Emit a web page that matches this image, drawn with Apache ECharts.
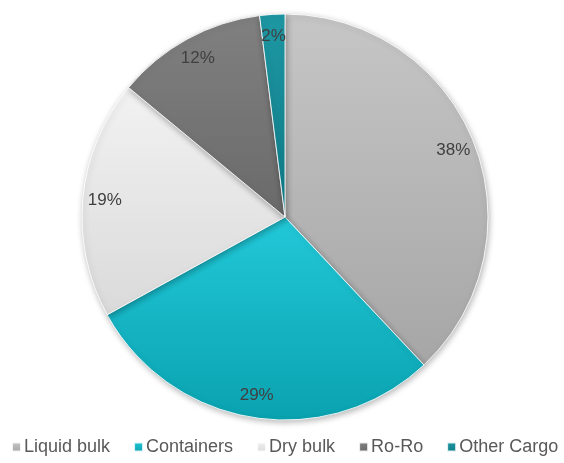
<!DOCTYPE html>
<html>
<head>
<meta charset="utf-8">
<script src="https://cdn.jsdelivr.net/npm/echarts@6/dist/echarts.min.js"></script>
<style>
  html, body { margin: 0; padding: 0; background: #fff; }
  #chart { width: 564px; height: 463px; }
</style>
</head>
<body>
<div id="chart"></div>
<script>
// Cargo mix by type (share of total, %)
const categories = ['Liquid bulk', 'Containers', 'Dry bulk', 'Ro-Ro', 'Other Cargo'];
const shares = [38, 29, 19, 12, 2];

// top / bottom shades of each slice
const topColors = ['#c6c6c6', '#22c8d8', '#f2f2f2', '#808080', '#1e98a4'];
const bottomColors = ['#a6a6a6', '#0aa2b0', '#dadada', '#6a6a6a', '#0f7c88'];
const legendColors = ['#a6a6a6', '#12b4c4', '#e0e0e0', '#6e6e6e', '#137f8a'];

const chart = echarts.init(document.getElementById('chart'));

const center = [285, 217];
const radius = 203;

const sliceData = categories.map((name, i) => ({
  name: name,
  value: shares[i],
  itemStyle: {
    color: new echarts.graphic.LinearGradient(0, 0, 0, 1, [
      { offset: 0, color: topColors[i] },
      { offset: 1, color: bottomColors[i] }
    ])
  }
}));

chart.setOption({
  animation: false,
  color: legendColors,
  legend: {
    top: 438,
    left: 11,
    padding: 0,
    icon: 'rect',
    itemWidth: 9,
    itemHeight: 9,
    itemGap: 23,
    textStyle: { fontFamily: 'Liberation Sans, Arial, sans-serif', fontSize: 18, color: '#595959', padding: [0, 0, 0, -2] },
    data: categories
  },
  series: [
    {
      type: 'pie',
      center: center,
      radius: [0, radius],
      startAngle: 90,
      clockwise: true,
      silent: true,
      label: { show: false },
      labelLine: { show: false },
      itemStyle: {
        borderColor: 'rgba(255,255,255,0.85)',
        borderWidth: 1,
        shadowColor: 'rgba(0,0,0,0.28)',
        shadowBlur: 6,
        shadowOffsetX: 1,
        shadowOffsetY: 2
      },
      data: sliceData
    },
    {
      // percentage labels set near the rim
      type: 'pie',
      center: center,
      radius: [153, radius],
      startAngle: 90,
      clockwise: true,
      silent: true,
      legendHoverLink: false,
      itemStyle: { color: 'rgba(0,0,0,0)', borderWidth: 0 },
      label: {
        show: true,
        position: 'inside',
        formatter: p => p.value + '%',
        fontFamily: 'Liberation Sans, Arial, sans-serif',
        fontSize: 17,
        color: '#404040'
      },
      labelLine: { show: false },
      data: categories.map((name, i) => ({ name: name, value: shares[i] }))
    }
  ]
});
</script>
</body>
</html>
